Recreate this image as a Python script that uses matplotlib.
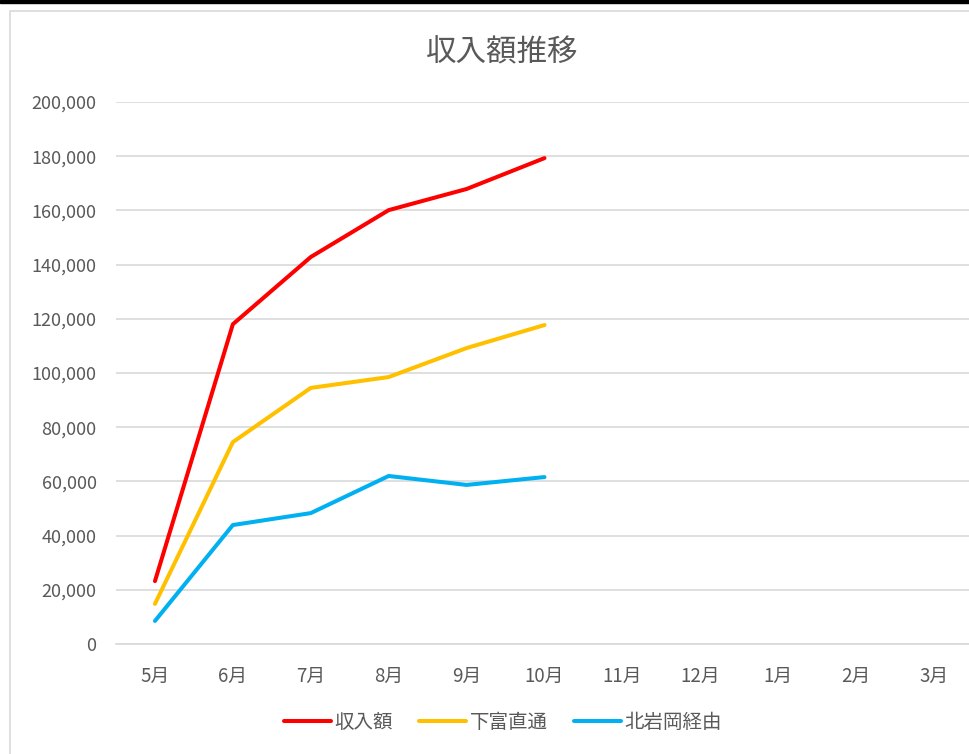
import matplotlib.pyplot as plt
from matplotlib.patches import Rectangle

plt.rcParams['font.family'] = ['Noto Sans CJK JP', 'DejaVu Sans']

months = ['5月', '6月', '7月', '8月', '9月', '10月', '11月', '12月', '1月', '2月', '3月']
income = [23200, 118000, 142800, 160100, 167900, 179300]
shimotomi = [14800, 74500, 94500, 98500, 109200, 117700]
kitaiwaoka = [8500, 43900, 48300, 62000, 58700, 61600]

TEXT = '#595959'
GRID = '#D9D9D9'

fig = plt.figure(figsize=(9.69, 7.54), dpi=100)
# chart border + top dark strip from the screenshot
fig.patches.append(Rectangle((10 / 969, -0.1), 1.1, 1 - 11 / 754 + 0.1,
                             transform=fig.transFigure, fill=False,
                             edgecolor=GRID, linewidth=1.2))
fig.patches.append(Rectangle((0, 1 - 3 / 754), 1, 3 / 754,
                             transform=fig.transFigure, color='black'))

ax = fig.add_axes([116 / 969, 110 / 754, 857 / 969, 542 / 754])
x = list(range(len(months)))
n = len(income)
ax.plot(x[:n], income, color='#FF0000', lw=2.9, solid_capstyle='round', label='収入額')
ax.plot(x[:n], shimotomi, color='#FFC000', lw=2.9, solid_capstyle='round', label='下富直通')
ax.plot(x[:n], kitaiwaoka, color='#00B0F0', lw=2.9, solid_capstyle='round', label='北岩岡経由')

ax.set_xlim(-0.5, len(months) - 0.5)
ax.set_ylim(0, 200000)
ax.set_yticks(range(0, 200001, 20000))
ax.set_yticklabels([f'{v:,}' for v in range(0, 200001, 20000)])
ax.set_xticks(x)
ax.set_xticklabels(months)
ax.tick_params(colors=TEXT, length=0)
ax.tick_params(axis='x', pad=16, labelsize=13.5)
ax.tick_params(axis='y', pad=14, labelsize=13)
ax.grid(axis='y', color=GRID, lw=1.2)
ax.set_axisbelow(True)
for s in ['top', 'right', 'left']:
    ax.spines[s].set_visible(False)
ax.spines['bottom'].set_color(GRID)
ax.spines['bottom'].set_linewidth(1.2)

fig.text(502 / 969, 1 - 53 / 754, '収入額推移', ha='center', va='center',
         fontsize=22, color=TEXT)

fig.legend(loc='center', bbox_to_anchor=(503 / 969, 1 - 722 / 754), ncol=3,
           frameon=False, fontsize=14, labelcolor=TEXT, handlelength=2.4,
           handletextpad=0.2, columnspacing=1.35)

fig.savefig('out.png', dpi=100)
